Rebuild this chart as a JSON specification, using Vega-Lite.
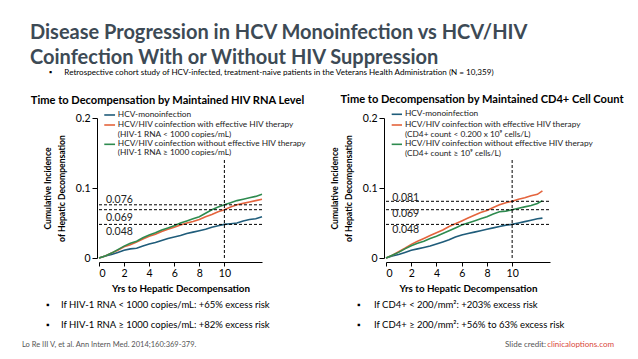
{
  "$schema": "https://vega.github.io/schema/vega-lite/v6.json",
  "background": "white",
  "padding": {"left": 22, "top": 23, "right": 0, "bottom": 0},
  "autosize": {"type": "pad"},
  "title": {
    "text": ["Disease Progression in HCV Monoinfection vs HCV/HIV", "Coinfection With or Without HIV Suppression"],
    "subtitle": "\u200b\u00a0\u00a0\u00a0\u00a0\u00a0\u00a0\u00a0\u00a0\u00a0\u25aa\u00a0\u00a0\u00a0\u00a0\u00a0\u00a0Retrospective cohort study of HCV-infected, treatment-naive patients in the Veterans Health Administration (N = 10,359)",
    "anchor": "start", "frame": "group", "dx": -69,
    "font": "Lato", "fontSize": 20, "fontWeight": "bold", "color": "#3d4a55", "lineHeight": 25,
    "subtitleFont": "Lato", "subtitleFontSize": 8.1, "subtitleColor": "#000", "subtitlePadding": 1, "offset": 17
  },
  "datasets": {
    "left": [
      {"t": 0, "mono": 0, "eff": 0, "noeff": 0},
      {"t": 0.5, "mono": 0.003, "eff": 0.003, "noeff": 0.003},
      {"t": 1, "mono": 0.005, "eff": 0.007, "noeff": 0.007},
      {"t": 1.5, "mono": 0.008, "eff": 0.011, "noeff": 0.012},
      {"t": 2, "mono": 0.011, "eff": 0.016, "noeff": 0.017},
      {"t": 2.5, "mono": 0.013, "eff": 0.019, "noeff": 0.021},
      {"t": 3, "mono": 0.014, "eff": 0.023, "noeff": 0.024},
      {"t": 3.5, "mono": 0.017, "eff": 0.027, "noeff": 0.029},
      {"t": 4, "mono": 0.02, "eff": 0.031, "noeff": 0.033},
      {"t": 4.5, "mono": 0.022, "eff": 0.034, "noeff": 0.036},
      {"t": 5, "mono": 0.025, "eff": 0.038, "noeff": 0.04},
      {"t": 5.5, "mono": 0.028, "eff": 0.041, "noeff": 0.043},
      {"t": 6, "mono": 0.03, "eff": 0.044, "noeff": 0.046},
      {"t": 6.5, "mono": 0.032, "eff": 0.047, "noeff": 0.05},
      {"t": 7, "mono": 0.035, "eff": 0.05, "noeff": 0.053},
      {"t": 7.5, "mono": 0.037, "eff": 0.052, "noeff": 0.056},
      {"t": 8, "mono": 0.039, "eff": 0.055, "noeff": 0.059},
      {"t": 8.5, "mono": 0.041, "eff": 0.059, "noeff": 0.064},
      {"t": 9, "mono": 0.044, "eff": 0.062, "noeff": 0.069},
      {"t": 9.5, "mono": 0.046, "eff": 0.066, "noeff": 0.073},
      {"t": 10, "mono": 0.048, "eff": 0.069, "noeff": 0.076},
      {"t": 10.5, "mono": 0.049, "eff": 0.073, "noeff": 0.079},
      {"t": 11, "mono": 0.05, "eff": 0.076, "noeff": 0.082},
      {"t": 11.5, "mono": 0.053, "eff": 0.078, "noeff": 0.084},
      {"t": 12, "mono": 0.055, "eff": 0.08, "noeff": 0.086},
      {"t": 12.5, "mono": 0.056, "eff": 0.082, "noeff": 0.088},
      {"t": 13, "mono": 0.059, "eff": 0.084, "noeff": 0.091}
    ],
    "right": [
      {"t": 0, "mono": 0, "eff": 0, "noeff": 0},
      {"t": 0.5, "mono": 0.003, "eff": 0.004, "noeff": 0.004},
      {"t": 1, "mono": 0.005, "eff": 0.009, "noeff": 0.008},
      {"t": 1.5, "mono": 0.008, "eff": 0.014, "noeff": 0.013},
      {"t": 2, "mono": 0.011, "eff": 0.0195, "noeff": 0.0176},
      {"t": 2.5, "mono": 0.013, "eff": 0.024, "noeff": 0.021},
      {"t": 3, "mono": 0.015, "eff": 0.028, "noeff": 0.024},
      {"t": 3.5, "mono": 0.017, "eff": 0.032, "noeff": 0.028},
      {"t": 4, "mono": 0.02, "eff": 0.036, "noeff": 0.031},
      {"t": 4.5, "mono": 0.023, "eff": 0.04, "noeff": 0.035},
      {"t": 5, "mono": 0.026, "eff": 0.045, "noeff": 0.039},
      {"t": 5.5, "mono": 0.03, "eff": 0.049, "noeff": 0.043},
      {"t": 6, "mono": 0.033, "eff": 0.053, "noeff": 0.047},
      {"t": 6.5, "mono": 0.035, "eff": 0.057, "noeff": 0.05},
      {"t": 7, "mono": 0.037, "eff": 0.061, "noeff": 0.053},
      {"t": 7.5, "mono": 0.039, "eff": 0.065, "noeff": 0.056},
      {"t": 8, "mono": 0.041, "eff": 0.068, "noeff": 0.059},
      {"t": 8.5, "mono": 0.043, "eff": 0.072, "noeff": 0.063},
      {"t": 9, "mono": 0.045, "eff": 0.076, "noeff": 0.066},
      {"t": 9.5, "mono": 0.047, "eff": 0.079, "noeff": 0.067},
      {"t": 10, "mono": 0.048, "eff": 0.081, "noeff": 0.069},
      {"t": 10.5, "mono": 0.05, "eff": 0.084, "noeff": 0.071},
      {"t": 11, "mono": 0.052, "eff": 0.086, "noeff": 0.073},
      {"t": 11.5, "mono": 0.054, "eff": 0.089, "noeff": 0.075},
      {"t": 12, "mono": 0.056, "eff": 0.091, "noeff": 0.078},
      {"t": 12.4, "mono": 0.057, "eff": 0.096, "noeff": 0.082}
    ],
    "leftRefs": [
      {"v": 0.076, "t": 0, "t2": 13.1, "lab": "0.076", "lx": 0.56, "ly": 0.0835},
      {"v": 0.069, "t": 0, "t2": 13.1, "lab": "0.069", "lx": 0.56, "ly": 0.057},
      {"v": 0.048, "t": 0, "t2": 13.1, "lab": "0.048", "lx": 0.56, "ly": 0.0378}
    ],
    "rightRefs": [
      {"v": 0.081, "t": 0, "t2": 13, "lab": "0.081", "lx": 0.5, "ly": 0.0862},
      {"v": 0.069, "t": 0, "t2": 13, "lab": "0.069", "lx": 0.5, "ly": 0.0625},
      {"v": 0.048, "t": 0, "t2": 13, "lab": "0.048", "lx": 0.5, "ly": 0.0395}
    ],
    "vref": [{"t": 10, "v": 0, "v2": 0.1424}],
    "leftKey": [
      {"series": "mono", "t": 0.42, "t2": 1.28, "v": 0.2043},
      {"series": "eff", "t": 0.42, "t2": 1.28, "v": 0.19},
      {"series": "noeff", "t": 0.42, "t2": 1.28, "v": 0.1624}
    ],
    "leftKeyText": [
      {"t": 1.5, "v": 0.2043, "txt": "HCV-monoinfection"},
      {"t": 1.5, "v": 0.19, "txt": "HCV/HIV coinfection with effective HIV therapy"},
      {"t": 1.5, "v": 0.1757, "txt": "(HIV-1 RNA < 1000 copies/mL)"},
      {"t": 1.5, "v": 0.1624, "txt": "HCV/HIV coinfection without effective HIV therapy"},
      {"t": 1.5, "v": 0.1495, "txt": "(HIV-1 RNA \u2265 1000 copies/mL)"}
    ],
    "rightKey": [
      {"series": "mono", "t": 0.45, "t2": 1.27, "v": 0.2053},
      {"series": "eff", "t": 0.45, "t2": 1.27, "v": 0.19},
      {"series": "noeff", "t": 0.45, "t2": 1.27, "v": 0.1624}
    ],
    "rightKeyText": [
      {"t": 1.5, "v": 0.2053, "txt": "HCV-monoinfection"},
      {"t": 1.5, "v": 0.19, "txt": "HCV/HIV coinfection with effective HIV therapy"},
      {"t": 1.5, "v": 0.1757, "txt": "(CD4+ count < 0.200 x 10\u2079 cells/L)"},
      {"t": 1.5, "v": 0.1624, "txt": "HCV/HIV coinfection without effective HIV therapy"},
      {"t": 1.5, "v": 0.148, "txt": "(CD4+ count \u2265 10\u2079 cells/L)"}
    ],
    "leftNotes": [
      {"row": 1, "c": 0, "txt": "If HIV-1 RNA < 1000 copies/mL: +65% excess risk"},
      {"row": 2, "c": 0, "txt": "If HIV-1 RNA \u2265 1000 copies/mL: +82% excess risk"}
    ],
    "rightNotes": [
      {"row": 1, "c": 0, "txt": "If CD4+ < 200/mm\u00b2: +203% excess risk"},
      {"row": 2, "c": 0, "txt": "If CD4+ \u2265 200/mm\u00b2: +56% to 63% excess risk"}
    ],
    "leftFoot": [{"row": 3, "c": 0, "txt": "Lo Re III V, et al. Ann Intern Med. 2014;160:369-379."}],
    "rightFoot": [{"row": 3, "c": 1, "txt": "Slide credit:", "link": "clinicaloptions.com"}]
  },
  "bounds": "flush",
  "columns": 2,
  "spacing": {"row": 37, "column": 124},
  "concat": [
    {
      "width": 163, "height": 140,
      "title": {"text": "Time to Decompensation by Maintained HIV RNA Level", "font": "Lato", "fontSize": 11.1, "fontWeight": "bold", "color": "#000", "anchor": "middle", "dx": -13, "offset": 4},
      "layer": [
        {
          "data": {"name": "left"},
          "transform": [{"fold": ["mono", "eff", "noeff"], "as": ["series", "v"]}],
          "mark": {"type": "line", "strokeWidth": 1.6, "clip": false},
          "encoding": {
            "x": {"field": "t", "type": "quantitative", "scale": {"domain": [0, 13], "nice": false}, "axis": {"values": [0, 2, 4, 6, 8, 10], "title": "Yrs to Hepatic Decompensation"}},
            "y": {"field": "v", "type": "quantitative", "scale": {"domain": [0, 0.2], "nice": false}, "axis": {"values": [0, 0.1, 0.2], "labelExpr": "datum.value == 0 ? '0' : format(datum.value, '.1f')", "title": ["Cumulative Incidence", "of Hepatic Decompensation"]}},
            "color": {"field": "series", "type": "nominal", "scale": {"domain": ["mono", "eff", "noeff"], "range": ["#1f5c7a", "#e4643d", "#2e8b4f"]}, "legend": null}
          }
        },
        {
          "data": {"name": "leftRefs"},
          "mark": {"type": "rule", "color": "#000", "strokeWidth": 1, "strokeDash": [3, 2], "clip": false},
          "encoding": {
            "x": {"field": "t", "type": "quantitative", "axis": {"values": [0, 2, 4, 6, 8, 10], "title": "Yrs to Hepatic Decompensation"}}, "x2": {"field": "t2"},
            "y": {"field": "v", "type": "quantitative", "axis": {"values": [0, 0.1, 0.2], "labelExpr": "datum.value == 0 ? '0' : format(datum.value, '.1f')", "title": ["Cumulative Incidence", "of Hepatic Decompensation"]}}
          }
        },
        {
          "data": {"name": "vref"},
          "mark": {"type": "rule", "color": "#000", "strokeWidth": 1, "strokeDash": [3, 2]},
          "encoding": {
            "x": {"field": "t", "type": "quantitative", "axis": {"values": [0, 2, 4, 6, 8, 10], "title": "Yrs to Hepatic Decompensation"}},
            "y": {"field": "v", "type": "quantitative", "axis": {"values": [0, 0.1, 0.2], "labelExpr": "datum.value == 0 ? '0' : format(datum.value, '.1f')", "title": ["Cumulative Incidence", "of Hepatic Decompensation"]}}, "y2": {"field": "v2"}
          }
        },
        {
          "data": {"name": "leftRefs"},
          "mark": {"type": "text", "font": "Lato", "fontSize": 10.5, "color": "#222", "align": "left", "baseline": "middle"},
          "encoding": {
            "x": {"field": "lx", "type": "quantitative", "axis": {"values": [0, 2, 4, 6, 8, 10], "title": "Yrs to Hepatic Decompensation"}},
            "y": {"field": "ly", "type": "quantitative", "axis": {"values": [0, 0.1, 0.2], "labelExpr": "datum.value == 0 ? '0' : format(datum.value, '.1f')", "title": ["Cumulative Incidence", "of Hepatic Decompensation"]}},
            "text": {"field": "lab"}
          }
        },
        {
          "data": {"name": "leftKey"},
          "mark": {"type": "rule", "strokeWidth": 1.6, "clip": false},
          "encoding": {
            "x": {"field": "t", "type": "quantitative", "axis": {"values": [0, 2, 4, 6, 8, 10], "title": "Yrs to Hepatic Decompensation"}}, "x2": {"field": "t2"},
            "y": {"field": "v", "type": "quantitative", "axis": {"values": [0, 0.1, 0.2], "labelExpr": "datum.value == 0 ? '0' : format(datum.value, '.1f')", "title": ["Cumulative Incidence", "of Hepatic Decompensation"]}},
            "color": {"field": "series", "type": "nominal", "legend": null}
          }
        },
        {
          "data": {"name": "leftKeyText"},
          "mark": {"type": "text", "font": "Lato", "fontSize": 8.3, "color": "#222", "align": "left", "baseline": "middle", "clip": false},
          "encoding": {
            "x": {"field": "t", "type": "quantitative", "axis": {"values": [0, 2, 4, 6, 8, 10], "title": "Yrs to Hepatic Decompensation"}},
            "y": {"field": "v", "type": "quantitative", "axis": {"values": [0, 0.1, 0.2], "labelExpr": "datum.value == 0 ? '0' : format(datum.value, '.1f')", "title": ["Cumulative Incidence", "of Hepatic Decompensation"]}},
            "text": {"field": "txt"}
          }
        }
      ]
    },
    {
      "width": 164, "height": 140,
      "title": {"text": "Time to Decompensation by Maintained CD4+ Cell Count", "font": "Lato", "fontSize": 11.1, "fontWeight": "bold", "color": "#000", "anchor": "middle", "dx": 14, "offset": 4},
      "layer": [
        {
          "data": {"name": "right"},
          "transform": [{"fold": ["mono", "eff", "noeff"], "as": ["series", "v"]}],
          "mark": {"type": "line", "strokeWidth": 1.6, "clip": false},
          "encoding": {
            "x": {"field": "t", "type": "quantitative", "scale": {"domain": [0, 13], "nice": false}, "axis": {"values": [0, 2, 4, 6, 8, 10], "title": "Yrs to Hepatic Decompensation"}},
            "y": {"field": "v", "type": "quantitative", "scale": {"domain": [0, 0.2], "nice": false}, "axis": {"values": [0, 0.1, 0.2], "labelExpr": "datum.value == 0 ? '0' : format(datum.value, '.1f')", "title": ["Cumulative Incidence", "of Hepatic Decompensation"]}},
            "color": {"field": "series", "type": "nominal", "scale": {"domain": ["mono", "eff", "noeff"], "range": ["#1f5c7a", "#e4643d", "#2e8b4f"]}, "legend": null}
          }
        },
        {
          "data": {"name": "rightRefs"},
          "mark": {"type": "rule", "color": "#000", "strokeWidth": 1, "strokeDash": [3, 2], "clip": false},
          "encoding": {
            "x": {"field": "t", "type": "quantitative", "axis": {"values": [0, 2, 4, 6, 8, 10], "title": "Yrs to Hepatic Decompensation"}}, "x2": {"field": "t2"},
            "y": {"field": "v", "type": "quantitative", "axis": {"values": [0, 0.1, 0.2], "labelExpr": "datum.value == 0 ? '0' : format(datum.value, '.1f')", "title": ["Cumulative Incidence", "of Hepatic Decompensation"]}}
          }
        },
        {
          "data": {"name": "vref"},
          "mark": {"type": "rule", "color": "#000", "strokeWidth": 1, "strokeDash": [3, 2]},
          "encoding": {
            "x": {"field": "t", "type": "quantitative", "axis": {"values": [0, 2, 4, 6, 8, 10], "title": "Yrs to Hepatic Decompensation"}},
            "y": {"field": "v", "type": "quantitative", "axis": {"values": [0, 0.1, 0.2], "labelExpr": "datum.value == 0 ? '0' : format(datum.value, '.1f')", "title": ["Cumulative Incidence", "of Hepatic Decompensation"]}}, "y2": {"field": "v2"}
          }
        },
        {
          "data": {"name": "rightRefs"},
          "mark": {"type": "text", "font": "Lato", "fontSize": 10.5, "color": "#222", "align": "left", "baseline": "middle"},
          "encoding": {
            "x": {"field": "lx", "type": "quantitative", "axis": {"values": [0, 2, 4, 6, 8, 10], "title": "Yrs to Hepatic Decompensation"}},
            "y": {"field": "ly", "type": "quantitative", "axis": {"values": [0, 0.1, 0.2], "labelExpr": "datum.value == 0 ? '0' : format(datum.value, '.1f')", "title": ["Cumulative Incidence", "of Hepatic Decompensation"]}},
            "text": {"field": "lab"}
          }
        },
        {
          "data": {"name": "rightKey"},
          "mark": {"type": "rule", "strokeWidth": 1.6, "clip": false},
          "encoding": {
            "x": {"field": "t", "type": "quantitative", "axis": {"values": [0, 2, 4, 6, 8, 10], "title": "Yrs to Hepatic Decompensation"}}, "x2": {"field": "t2"},
            "y": {"field": "v", "type": "quantitative", "axis": {"values": [0, 0.1, 0.2], "labelExpr": "datum.value == 0 ? '0' : format(datum.value, '.1f')", "title": ["Cumulative Incidence", "of Hepatic Decompensation"]}},
            "color": {"field": "series", "type": "nominal", "legend": null}
          }
        },
        {
          "data": {"name": "rightKeyText"},
          "mark": {"type": "text", "font": "Lato", "fontSize": 8.3, "color": "#222", "align": "left", "baseline": "middle", "clip": false},
          "encoding": {
            "x": {"field": "t", "type": "quantitative", "axis": {"values": [0, 2, 4, 6, 8, 10], "title": "Yrs to Hepatic Decompensation"}},
            "y": {"field": "v", "type": "quantitative", "axis": {"values": [0, 0.1, 0.2], "labelExpr": "datum.value == 0 ? '0' : format(datum.value, '.1f')", "title": ["Cumulative Incidence", "of Hepatic Decompensation"]}},
            "text": {"field": "txt"}
          }
        }
      ]
    },
    {
      "width": 163, "height": 60,
      "layer": [
        {
          "data": {"name": "leftNotes"},
          "mark": {"type": "text", "font": "Lato", "fontSize": 9, "color": "#000", "align": "left", "baseline": "middle", "dx": -53},
          "encoding": {"x": {"field": "c", "type": "quantitative", "scale": {"domain": [0, 1]}, "axis": null}, "y": {"field": "row", "type": "ordinal", "scale": {"domain": [1, 2, 3], "padding": 0.5}, "axis": null}, "text": {"value": "\u25aa"}}
        },
        {
          "data": {"name": "leftNotes"},
          "mark": {"type": "text", "font": "Lato", "fontSize": 9.5, "color": "#000", "align": "left", "baseline": "middle", "dx": -38},
          "encoding": {"x": {"field": "c", "type": "quantitative", "axis": null}, "y": {"field": "row", "type": "ordinal", "axis": null}, "text": {"field": "txt"}}
        },
        {
          "data": {"name": "leftFoot"},
          "mark": {"type": "text", "font": "Lato", "fontSize": 7.5, "color": "#555", "align": "left", "baseline": "middle", "dx": -77},
          "encoding": {"x": {"field": "c", "type": "quantitative", "axis": null}, "y": {"field": "row", "type": "ordinal", "axis": null}, "text": {"field": "txt"}}
        }
      ]
    },
    {
      "width": 164, "height": 60,
      "layer": [
        {
          "data": {"name": "rightNotes"},
          "mark": {"type": "text", "font": "Lato", "fontSize": 9, "color": "#000", "align": "left", "baseline": "middle", "dx": -29},
          "encoding": {"x": {"field": "c", "type": "quantitative", "scale": {"domain": [0, 1]}, "axis": null}, "y": {"field": "row", "type": "ordinal", "scale": {"domain": [1, 2, 3], "padding": 0.5}, "axis": null}, "text": {"value": "\u25aa"}}
        },
        {
          "data": {"name": "rightNotes"},
          "mark": {"type": "text", "font": "Lato", "fontSize": 9.5, "color": "#000", "align": "left", "baseline": "middle", "dx": -12},
          "encoding": {"x": {"field": "c", "type": "quantitative", "axis": null}, "y": {"field": "row", "type": "ordinal", "axis": null}, "text": {"field": "txt"}}
        },
        {
          "data": {"name": "rightFoot"},
          "mark": {"type": "text", "font": "Lato", "fontSize": 8, "color": "#d9483b", "align": "right", "baseline": "middle", "dx": 64},
          "encoding": {"x": {"field": "c", "type": "quantitative", "axis": null}, "y": {"field": "row", "type": "ordinal", "axis": null}, "text": {"field": "link"}}
        },
        {
          "data": {"name": "rightFoot"},
          "mark": {"type": "text", "font": "Lato", "fontSize": 8, "color": "#555", "align": "right", "baseline": "middle", "dx": -4},
          "encoding": {"x": {"field": "c", "type": "quantitative", "axis": null}, "y": {"field": "row", "type": "ordinal", "axis": null}, "text": {"field": "txt"}}
        }
      ]
    }
  ],
  "config": {
    "view": {"stroke": null},
    "axis": {"grid": false, "labelOverlap": false, "labelFont": "Lato", "labelFontSize": 10.5, "labelColor": "#000", "labelPadding": 2, "domainColor": "#000", "tickColor": "#000", "titleFont": "Lato", "titleFontWeight": "bold", "titleColor": "#000"},
    "axisX": {"tickSize": 4, "offset": 4, "titleFontSize": 9.8, "titlePadding": 5},
    "axisY": {"tickSize": 5, "offset": 2, "titleFontSize": 8.6, "titleLineHeight": 13.5, "titlePadding": 9}
  }
}
